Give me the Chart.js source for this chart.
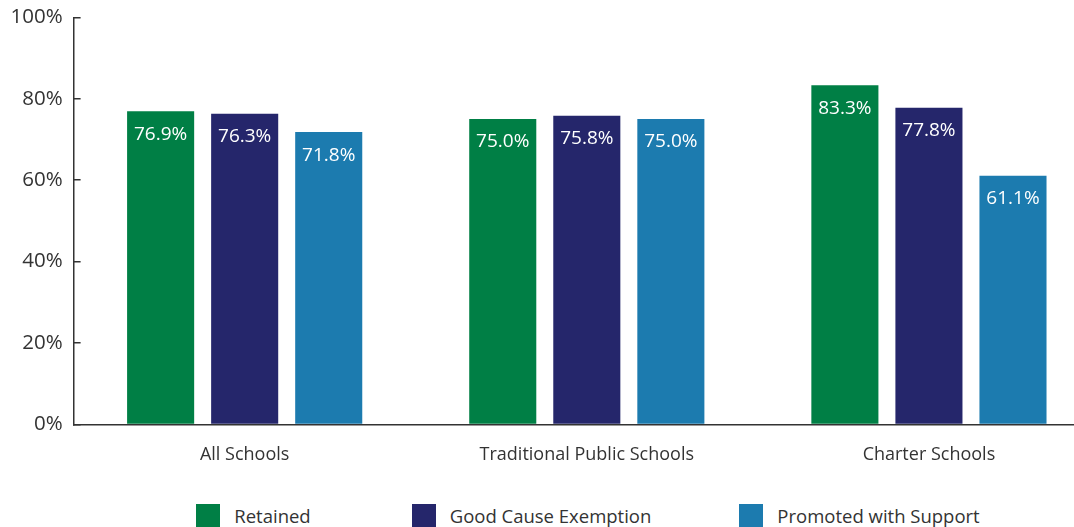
<!DOCTYPE html>
<html>
<head>
<meta charset="utf-8">
<script src="https://cdn.jsdelivr.net/npm/chart.js@4.4.1/dist/chart.umd.min.js"></script>
<style>
  html, body { margin: 0; padding: 0; background: #fff; overflow: hidden; }
  #wrap { position: relative; width: 1100px; height: 493px; margin-top: -13px; }
  #legend {
    position: absolute; top: 504px; left: 0; width: 1176px;
    display: flex; justify-content: center; align-items: flex-start;
    font-family: "Open Sans", Lato, sans-serif; font-size: 18.5px; color: #333;
  }
  .item { display: flex; align-items: flex-start; }
  .item:nth-child(1) { margin-right: 101px; }
  .item:nth-child(2) { margin-right: 88px; }
  .box { width: 24px; height: 24px; margin-right: 14px; }
  .item span { line-height: 24px; }
</style>
</head>
<body>
<div id="wrap"><canvas id="chart"></canvas></div>
<div id="legend"></div>
<script>
// Chart data
const categories = ['All Schools', 'Traditional Public Schools', 'Charter Schools'];
const retained = [76.9, 75.0, 83.3];
const goodCause = [76.3, 75.8, 77.8];
const promoted = [71.8, 75.0, 61.1];
const yTicks = [0, 20, 40, 60, 80, 100];

const textColor = '#333333';
const fontFamily = '"Open Sans", Lato, sans-serif';

// Draw the value inside the top of each bar
const barLabels = {
    id: 'barLabels',
    afterDatasetsDraw(chart) {
        const ctx = chart.ctx;
        ctx.save();
        ctx.fillStyle = '#ffffff';
        ctx.font = '19px ' + fontFamily;
        ctx.textAlign = 'center';
        ctx.textBaseline = 'middle';
        chart.data.datasets.forEach((ds, i) => {
            chart.getDatasetMeta(i).data.forEach((bar, j) => {
                ctx.fillText(ds.data[j].toFixed(1) + '%', bar.x, bar.y + 23);
            });
        });
        ctx.restore();
    }
};

const chart = new Chart(document.getElementById('chart').getContext('2d'), {
    type: 'bar',
    data: {
        labels: categories,
        datasets: [
            { label: 'Retained', data: retained, backgroundColor: '#007f45' },
            { label: 'Good Cause Exemption', data: goodCause, backgroundColor: '#25266b' },
            { label: 'Promoted with Support', data: promoted, backgroundColor: '#1c7baf' }
        ]
    },
    options: {
        responsive: true,
        maintainAspectRatio: false,
        animation: false,
        categoryPercentage: 0.737,
        barPercentage: 0.798,
        layout: { padding: { top: -6, left: -7.5, right: 0, bottom: 2 } },
        plugins: {
            tooltip: { enabled: false },
            legend: { display: false }
        },
        scales: {
            x: {
                grid: { display: false },
                border: { display: true, color: textColor, width: 1.5 },
                ticks: { color: textColor, font: { family: fontFamily, size: 18 }, padding: 12 }
            },
            y: {
                min: 0,
                max: 100,
                afterBuildTicks(axis) { axis.ticks = yTicks.map(v => ({ value: v })); },
                grid: { drawOnChartArea: false, tickLength: -7, color: textColor, lineWidth: 1.5 },
                border: { display: true, color: textColor, width: 1.5 },
                ticks: {
                    color: textColor,
                    font: { family: fontFamily, size: 20.5 },
                    padding: 18,
                    callback: v => v + '%'
                }
            }
        }
    },
    plugins: [barLabels]
});

// HTML legend built from the datasets
const legend = document.getElementById('legend');
chart.data.datasets.forEach(ds => {
    const item = document.createElement('div');
    item.className = 'item';
    const box = document.createElement('div');
    box.className = 'box';
    box.style.background = ds.backgroundColor;
    const label = document.createElement('span');
    label.textContent = ds.label;
    item.appendChild(box);
    item.appendChild(label);
    legend.appendChild(item);
});
</script>
</body>
</html>
